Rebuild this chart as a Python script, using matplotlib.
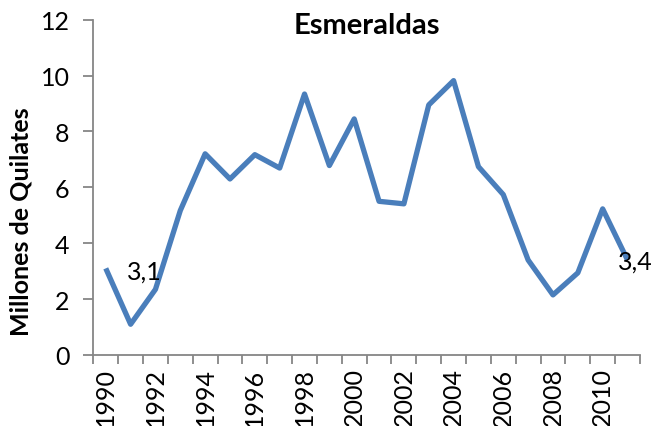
import matplotlib
matplotlib.use("Agg")
from matplotlib import pyplot as plt
import numpy as np

YEARS = list(range(1990, 2012))
VALUES = [3.1, 1.1, 2.35, 5.17, 7.2, 6.3, 7.17, 6.69, 9.34, 6.78, 8.45,
          5.5, 5.41, 8.95, 9.82, 6.74, 5.74, 3.4, 2.15, 2.94, 5.23, 3.4]
TITLE = "Esmeraldas"
Y_LABEL = "Millones de Quilates"
Y_TICKS = [0, 2, 4, 6, 8, 10, 12]

LINE_COLOR = "#4a7ebb"
AXIS_COLOR = "#868686"

plt.rcParams["font.family"] = ["Lato", "DejaVu Sans"]


def main():
    fig = plt.figure(figsize=(6.55, 4.27), dpi=100)
    ax = fig.add_axes([0.1425, 0.1663, 0.977 - 0.1425, 0.9515 - 0.1663])

    x = np.arange(len(YEARS))
    ax.plot(x, VALUES, color=LINE_COLOR, lw=3.8,
            solid_joinstyle="round", solid_capstyle="butt")

    # data labels on first and last point
    ax.text(0.85, VALUES[0] - 0.1, f"{VALUES[0]:.1f}".replace(".", ","),
            ha="left", va="center", fontsize=18)
    ax.text(20.6, VALUES[-1] - 0.04, f"{VALUES[-1]:.1f}".replace(".", ","),
            ha="left", va="center", fontsize=18)

    ax.set_xlim(-0.5, len(YEARS) - 0.5)
    ax.set_ylim(0, 12)
    ax.set_yticks(Y_TICKS)

    ax.set_xticks(np.arange(-0.5, len(YEARS), 1.0))
    ax.set_xticklabels([])
    ax.set_xticks(x[::2], minor=True)
    ax.set_xticklabels([str(y) for y in YEARS[::2]], minor=True, rotation=90)
    ax.tick_params(axis="x", which="minor", length=0, pad=9, labelsize=18)
    ax.tick_params(axis="x", which="major", length=6.5, width=1.3,
                   color=AXIS_COLOR, direction="out")
    ax.tick_params(axis="y", length=7, width=1.3, color=AXIS_COLOR,
                   labelsize=18, pad=10)

    for s in ["top", "right"]:
        ax.spines[s].set_visible(False)
    for s in ["left", "bottom"]:
        ax.spines[s].set_color(AXIS_COLOR)
        ax.spines[s].set_linewidth(1.3)

    ax.set_ylabel(Y_LABEL, fontsize=18, fontweight="bold")
    ax.yaxis.set_label_coords(-0.112, 0.40)
    ax.set_title(TITLE, fontsize=21, fontweight="bold", pad=0, y=0.96)

    fig.savefig("out.png", dpi=100)


if __name__ == "__main__":
    main()
